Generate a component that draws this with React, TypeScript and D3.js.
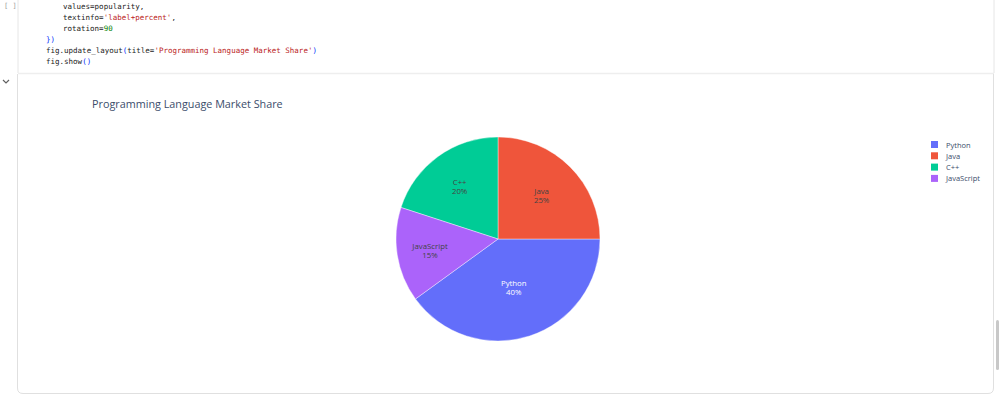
import * as d3 from "d3";

const languages = ["Python", "Java", "C++", "JavaScript"];
const popularity = [40, 25, 20, 15];
const colors = ["#636efa", "#EF553B", "#00cc96", "#ab63fa"];
const labelColors = ["#ffffff", "#444444", "#444444", "#444444"];

const codeLines: { indent: number; parts: [string, string][] }[] = [
  { indent: 63, parts: [["values=popularity,", "#212121"]] },
  { indent: 63, parts: [["textinfo=", "#212121"], ["'label+percent'", "#ba2121"], [",", "#212121"]] },
  { indent: 63, parts: [["rotation=", "#212121"], ["90", "#008000"]] },
  { indent: 46, parts: [["})", "#0431fa"]] },
  {
    indent: 46,
    parts: [
      ["fig.update_layout", "#212121"],
      ["(", "#0431fa"],
      ["title=", "#212121"],
      ["'Programming Language Market Share'", "#ba2121"],
      [")", "#0431fa"],
    ],
  },
  { indent: 46, parts: [["fig.show", "#212121"], ["()", "#0431fa"]] },
];

const W = 1000;
const H = 396;
const font = "'Open Sans', Verdana, Arial, sans-serif";

export default function App() {
  const cx = 498;
  const cy = 239;
  const r = 102;

  const total = d3.sum(popularity);
  // plotly: counterclockwise, rotation=90
  const start = (Math.PI / 180) * (90 + (popularity[0] / total) * 360);
  const pie = d3
    .pie<number>()
    .sort(null)
    .startAngle(start)
    .endAngle(start - 2 * Math.PI);
  const arcs = pie(popularity);
  const arc = d3.arc<d3.PieArcDatum<number>>().innerRadius(0).outerRadius(r);

  return (
    <div style={{ position: "fixed", left: 0, top: 0 }}>
      <svg width={W} height={H} style={{ display: "block", background: "#fff" }}>
        {/* notebook chrome */}
        <text x={4} y={8} fontSize={7} fill="#9e9e9e" fontFamily="DejaVu Sans Mono">
          [ ]
        </text>
        <line x1={18} y1={0} x2={18} y2={73} stroke="#e6e6e6" />
        <line x1={18} y1={73.5} x2={994} y2={73.5} stroke="#eeeeee" strokeWidth={1.5} />
        <line x1={994} y1={0} x2={994} y2={73} stroke="#e6e6e6" />
        <path d="M3,80 L6,83 L9,80" fill="none" stroke="#616161" strokeWidth={1.2} />
        <path
          d="M17.5,74 L17.5,388 Q17.5,393.5 23,393.5 L988,393.5 Q993.5,393.5 993.5,388 L993.5,74"
          fill="none"
          stroke="#e0e0e0"
        />
        <rect x={996} y={320} width={3} height={50} rx={1.5} fill="#c8c8c8" />

        {codeLines.map((ln, i) => {
          return (
            <text
              key={i}
              x={ln.indent}
              y={9 + i * 11}
              fontSize={7.5}
              fontFamily="'DejaVu Sans Mono', monospace"
            >
              {ln.parts.map((p, j) => (
                <tspan key={j} fill={p[1]}>
                  {p[0]}
                </tspan>
              ))}
            </text>
          );
        })}

        {/* title */}
        <text x={92} y={108} fontSize={10.8} fill="#3b4d6b" fontFamily={font}>
          Programming Language Market Share
        </text>

        {/* pie */}
        <g transform={`translate(${cx},${cy})`}>
          {arcs.map((a, i) => (
            <path key={languages[i]} d={arc(a) || ""} fill={colors[i]} stroke="#fff" strokeWidth={0.4} />
          ))}
          {arcs.map((a, i) => {
            const mid = (a.startAngle + a.endAngle) / 2;
            const frac = popularity[i] / total;
            const lr = r * (0.78 - 0.7 * frac);
            const x = Math.sin(mid) * lr;
            const y = -Math.cos(mid) * lr;
            const pct = d3.format(".0%")(frac);
            return (
              <text
                key={"l" + languages[i]}
                x={x}
                y={y}
                textAnchor="middle"
                fontSize={7.8}
                fill={labelColors[i]}
                fontFamily={font}
              >
                <tspan x={x} dy="-0.15em">
                  {languages[i]}
                </tspan>
                <tspan x={x} dy="1.15em">
                  {pct}
                </tspan>
              </text>
            );
          })}
        </g>

        {/* legend */}
        <g transform="translate(931,141)">
          {languages.map((name, i) => (
            <g key={name} transform={`translate(0,${i * 11.3})`}>
              <rect x={0} y={0} width={7} height={7} fill={colors[i]} />
              <text x={15} y={6.5} fontSize={7.5} fill="#3b4d6b" fontFamily={font}>
                {name}
              </text>
            </g>
          ))}
        </g>
      </svg>
    </div>
  );
}
